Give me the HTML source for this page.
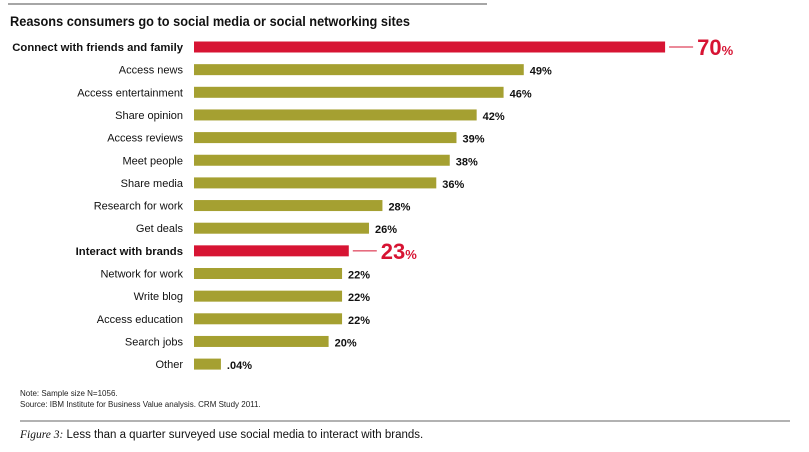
<!DOCTYPE html>
<html><head><meta charset="utf-8"><style>
body{margin:0;background:#fff;width:809px;height:452px;overflow:hidden;font-family:"Liberation Sans",Arial,sans-serif}
svg{display:block}
</style></head><body>
<svg id="c" width="809" height="452">
<line x1="8" y1="4" x2="487" y2="4" stroke="#888" stroke-width="1.5"/>
<text x="10" y="26" font-size="13.5" font-weight="bold" fill="#111" textLength="400" lengthAdjust="spacingAndGlyphs">Reasons consumers go to social media or social networking sites</text>
<g id="bars"></g>
<text x="20" y="396" font-size="8" fill="#222">Note: Sample size N=1056.</text>
<text x="20" y="407" font-size="8" fill="#222">Source: IBM Institute for Business Value analysis. CRM Study 2011.</text>
<line x1="20" y1="421" x2="790" y2="421" stroke="#999" stroke-width="1.5"/>
<text x="20" y="438" font-size="11.5" fill="#111"><tspan font-family="Liberation Serif,serif" font-style="italic">Figure 3:</tspan> Less than a quarter surveyed use social media to interact with brands.</text>
</svg>
<script>
const categories=["Connect with friends and family","Access news","Access entertainment","Share opinion","Access reviews","Meet people","Share media","Research for work","Get deals","Interact with brands","Network for work","Write blog","Access education","Search jobs","Other"];
const values=[70,49,46,42,39,38,36,28,26,23,22,22,22,20,4];
const valueLabels=["70","49%","46%","42%","39%","38%","36%","28%","26%","23","22%","22%","22%","20%",".04%"];
const highlighted=[true,false,false,false,false,false,false,false,false,true,false,false,false,false,false];
const ns="http://www.w3.org/2000/svg";
const g=document.getElementById("bars");
const x0=194,pxPer=6.73,y0=47,step=22.65,bh=11;
const xs=v=>x0+v*pxPer, ys=i=>y0+i*step;
function mk(t,a){const e=document.createElementNS(ns,t);for(const k in a)e.setAttribute(k,a[k]);g.appendChild(e);return e;}
categories.forEach((c,i)=>{
 const y=ys(i),hi=highlighted[i];
 const lab=mk("text",{x:183,y:y+4,"text-anchor":"end","font-size":hi?"11.3":"11","font-weight":hi?"bold":"normal",fill:"#111"});
 lab.textContent=c;
 
 
 const r=mk("rect",{x:x0,y:y-bh/2,width:xs(values[i])-x0,height:bh,fill:hi?"#d71433":"#a5a031"});
 
 
 if(hi){
  const xe=xs(values[i]);
  const l=mk("line",{x1:xe+4,y1:y,x2:xe+28,y2:y,stroke:"#d71433","stroke-width":"1"});
  
  
  const t=mk("text",{x:xe+32,y:y+8,"font-size":"22","font-weight":"bold",fill:"#d71433"});
  t.innerHTML=valueLabels[i]+'<tspan font-size="13">%</tspan>';
  
  
 } else {
  const t=mk("text",{x:xs(values[i])+6,y:y+5,"font-size":"11","font-weight":"bold",fill:"#111"});
  t.textContent=valueLabels[i];
  
  
 }
});
</script>
</body></html>
